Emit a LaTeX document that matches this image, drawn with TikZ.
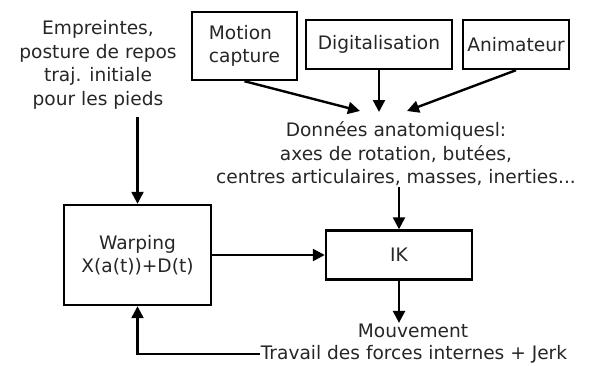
\documentclass[tikz,border=0pt]{standalone}
\usepackage{fontspec}
\setmainfont{DejaVu Sans}
\usetikzlibrary{arrows.meta}
\begin{document}
\begin{tikzpicture}[x=1pt,y=-1pt,
  every node/.style={font=\fontsize{18.6}{23.5}\selectfont, text=black!85},
  box/.style={draw=black, line width=2.4pt, inner sep=0pt, align=center},
  txt/.style={align=center, inner sep=1pt},
  arr/.style={line width=2.4pt, -{Triangle[length=12pt,width=12pt]}}]
\useasboundingbox (0,0) rectangle (590,365);
\node[txt] (emp) at (98,65) {Empreintes,\\posture de repos\\traj. initiale\\pour les pieds};
\node[box, minimum width=105pt, minimum height=68pt, align=left] (mocap) at (244.5,46) {Motion\\capture};
\node[box, minimum width=146pt, minimum height=49pt] (digit) at (379,44.5) {Digitalisation};
\node[box, minimum width=106pt, minimum height=49pt] (anim) at (516,44.5) {Animateur};
\node[txt] (don) at (396,154) {Données anatomiquesl:\\axes de rotation, butées,\\centres articulaires, masses, inerties...};
\node[box, minimum width=147pt, minimum height=100pt] (warp) at (137.5,255) {Warping\\X(a(t))+D(t)};
\node[box, minimum width=146pt, minimum height=49pt] (ik) at (399,255) {IK};
\node[txt] (mouv) at (413,331) {Mouvement};
\node[txt] (trav) at (414,354) {Travail des forces internes + Jerk};
\coordinate (t1) at (360,111);
\coordinate (t2) at (379,112);
\coordinate (t3) at (407,111);
\coordinate (es) at (137.5,117);
\coordinate (ds) at (399,187);
\draw[arr] (mocap.south) -- (t1);
\draw[arr] (digit.south) -- (t2);
\draw[arr] (anim.south) -- (t3);
\draw[arr] (es) -- (warp.north);
\draw[arr] (ds) -- (ik.north);
\draw[arr] (warp.east) -- (ik.west);
\draw[arr] (ik.south) -- (ik.south |- mouv.north);
\draw[arr] (trav.west) -| (warp.south);
\end{tikzpicture}
\end{document}
